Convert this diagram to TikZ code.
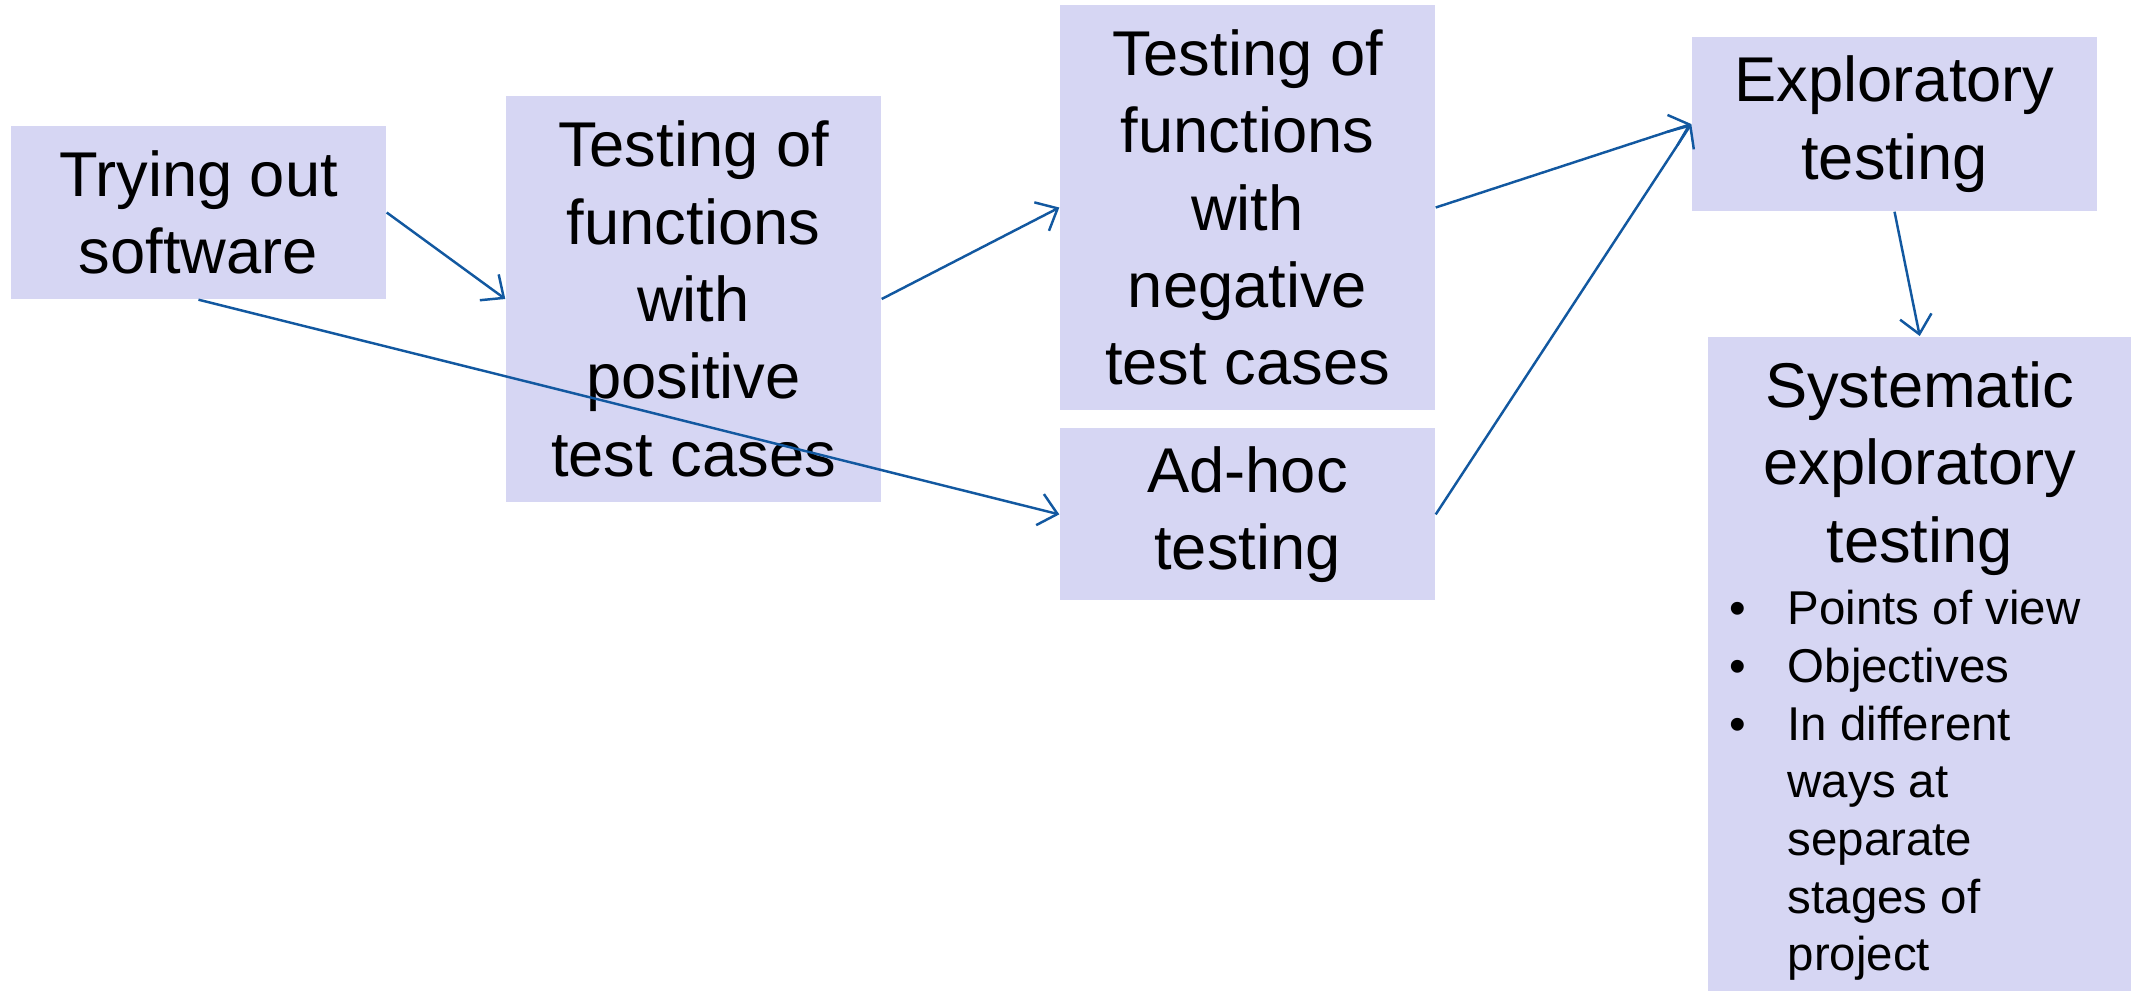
\documentclass[tikz,border=0pt]{standalone}
\usepackage{fontspec}
\setmainfont{Liberation Sans}
\usetikzlibrary{positioning, arrows.meta}
\definecolor{boxfill}{RGB}{214,214,243}
\definecolor{arrblue}{RGB}{18,88,160}
\newcommand{\bul}{\makebox[8mm][l]{\hspace{2.2mm}\textbullet}}
\newcommand{\ind}{\hspace*{8mm}}

\begin{document}
\begin{tikzpicture}[
  node distance=1.7mm,
  box/.style={fill=boxfill, inner sep=0pt, minimum width=37.5mm, align=center,
    font=\fontsize{18}{22}\selectfont},
  arr/.style={-{Straight Barb[length=1.8mm, width=3.2mm]}, draw=arrblue, line width=0.7pt}
]
  \useasboundingbox (0,0) rectangle (21.31,-9.9);

  \node[box, minimum height=17.3mm] (try) at (1.985,-2.125) {Trying out\\software};
  \node[box, minimum height=40.6mm] (pos) at (6.935,-2.99)
    {Testing of\\functions\\with\\positive\\test cases};
  \node[box, minimum height=40.5mm] (neg) at (12.475,-2.075)
    {Testing of\\functions\\with\\negative\\test cases};
  \node[box, minimum height=17.2mm, below=of neg] (adhoc) {Ad-hoc\\testing};
  \node[box, minimum width=40.5mm, minimum height=17.4mm] (expl) at (18.945,-1.24)
    {Exploratory\\testing};
  \node[box, anchor=north west, minimum width=42.4mm, minimum height=65.4mm] (sys)
    at (17.07,-3.36) {\parbox[c][65.4mm][t]{42.4mm}{%
      \setlength{\parskip}{0pt}\vspace*{2.5mm}
      {\centering Systematic\\exploratory\\testing\par}
      \vspace{0.5mm}
      {\fontsize{13.5}{16.4}\selectfont\raggedright
      \bul Points of view\\
      \bul Objectives\\
      \bul In different\\
      \ind ways at\\
      \ind separate\\
      \ind stages of\\
      \ind project\par}}};

  \draw[arr] (try.east) -- (pos.west);
  \draw[arr] (try.south) -- (adhoc.west);
  \draw[arr] (pos.east) -- (neg.west);
  \draw[arr] (neg.east) -- (expl.west);
  \draw[arr] (adhoc.east) -- (expl.west);
  \draw[arr] (expl.south) -- (sys.north);
\end{tikzpicture}
\end{document}
